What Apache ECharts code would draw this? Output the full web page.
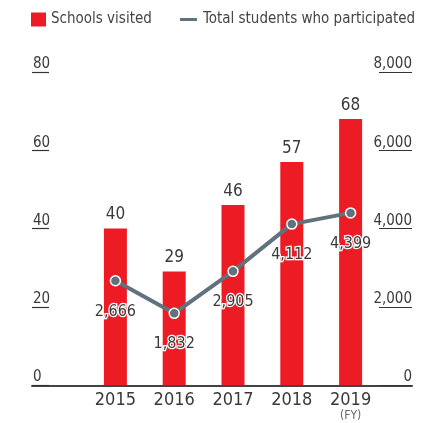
<!DOCTYPE html>
<html>
<head>
<meta charset="utf-8">
<title>Schools visited / Total students</title>
<script src="https://cdn.jsdelivr.net/npm/echarts@6/dist/echarts.min.js"></script>
<style>
  html, body { margin: 0; padding: 0; background: #fff; }
  #chart { width: 446px; height: 423px; }
</style>
</head>
<body>
<div id="chart"></div>
<script>
// data
const years = ['2015', '2016', '2017', '2018', '2019'];
const schoolsVisited = [40, 29, 46, 57, 68];
const totalStudents = [2666, 1832, 2905, 4112, 4399];
const schoolTicks = { min: 0, max: 80, interval: 20 };
const studentTicks = { min: 0, max: 8000, interval: 2000 };

const FONT = "'DejaVu Sans Condensed', 'Liberation Sans Narrow', sans-serif";
const RED = '#ed1c24';
const SLATE = '#5f727d';
const INK = '#3a3a3a';

const fmt = v => Number(v).toLocaleString('en-US');

const chart = echarts.init(document.getElementById('chart'));

const option = {
  backgroundColor: '#fff',
  animation: false,
  textStyle: { fontFamily: FONT },
  legend: [
    {
      data: ['Schools visited'],
      left: 31,
      top: 12,
      padding: 0,
      icon: 'rect',
      itemWidth: 15,
      itemHeight: 14,
      selectedMode: false,
      textStyle: { fontFamily: FONT, fontSize: 15, color: '#444' }
    },
    {
      data: ['Total students who participated'],
      left: 178,
      top: 12,
      padding: 0,
      icon: 'roundRect',
      itemWidth: 19,
      itemHeight: 5,
      selectedMode: false,
      textStyle: { fontFamily: FONT, fontSize: 15, color: '#444' }
    }
  ],
  grid: [
    // full width grid: only carries the base line
    { left: 32, right: 34, top: 72, bottom: 37 },
    // inner grid holding the bars and line
    { left: 86, right: 66, top: 72, bottom: 37 }
  ],
  xAxis: [
    {
      gridIndex: 0,
      type: 'category',
      data: years,
      axisLine: { lineStyle: { color: '#444', width: 2 } },
      axisTick: { show: false },
      axisLabel: { show: false }
    },
    {
      gridIndex: 1,
      type: 'category',
      data: years,
      axisLine: { show: false },
      axisTick: { show: false },
      axisLabel: {
        interval: 0,
        margin: 6,
        color: INK,
        fontFamily: FONT,
        fontSize: 18,
        lineHeight: 18,
        formatter: v => v === years[years.length - 1] ? v + '\n{fy|(FY)}' : v,
        rich: {
          fy: { fontFamily: FONT, fontSize: 12, lineHeight: 14, color: '#666' }
        }
      }
    }
  ],
  yAxis: [
    {
      gridIndex: 0,
      type: 'value',
      show: false,
      min: schoolTicks.min,
      max: schoolTicks.max
    },
    {
      gridIndex: 1,
      type: 'value',
      position: 'left',
      offset: 54,
      min: schoolTicks.min,
      max: schoolTicks.max,
      interval: schoolTicks.interval,
      splitLine: { show: false },
      axisLine: { show: false },
      axisTick: { show: true, inside: true, length: 17, lineStyle: { color: '#333', width: 1.2 } },
      axisLabel: {
        inside: true,
        align: 'left',
        verticalAlign: 'bottom',
        margin: 1,
        color: INK,
        fontFamily: FONT,
        fontSize: 15
      }
    },
    {
      gridIndex: 1,
      type: 'value',
      position: 'right',
      offset: 32,
      min: studentTicks.min,
      max: studentTicks.max,
      interval: studentTicks.interval,
      splitLine: { show: false },
      axisLine: { show: false },
      axisTick: { show: true, inside: true, length: 33, lineStyle: { color: '#333', width: 1.2 } },
      axisLabel: {
        inside: true,
        align: 'right',
        verticalAlign: 'bottom',
        margin: 0,
        color: INK,
        fontFamily: FONT,
        fontSize: 15,
        formatter: fmt
      }
    }
  ],
  series: [
    {
      name: 'Schools visited',
      type: 'bar',
      xAxisIndex: 1,
      yAxisIndex: 1,
      barWidth: 23,
      itemStyle: { color: RED },
      label: {
        show: true,
        position: 'top',
        distance: 5,
        color: INK,
        fontFamily: FONT,
        fontSize: 17
      },
      data: schoolsVisited
    },
    {
      name: 'Total students who participated',
      type: 'line',
      xAxisIndex: 1,
      yAxisIndex: 2,
      symbol: 'circle',
      symbolSize: 10,
      lineStyle: { color: SLATE, width: 4 },
      itemStyle: { color: SLATE, borderColor: '#fff', borderWidth: 1.5 },
      label: {
        show: true,
        position: 'bottom',
        distance: 17,
        color: INK,
        fontFamily: FONT,
        fontSize: 16,
        textBorderColor: '#fff',
        textBorderWidth: 2.5,
        formatter: p => fmt(p.value)
      },
      data: totalStudents
    }
  ]
};

chart.setOption(option);

window.addEventListener('resize', () => {
  chart.resize();
});
</script>
</body>
</html>
